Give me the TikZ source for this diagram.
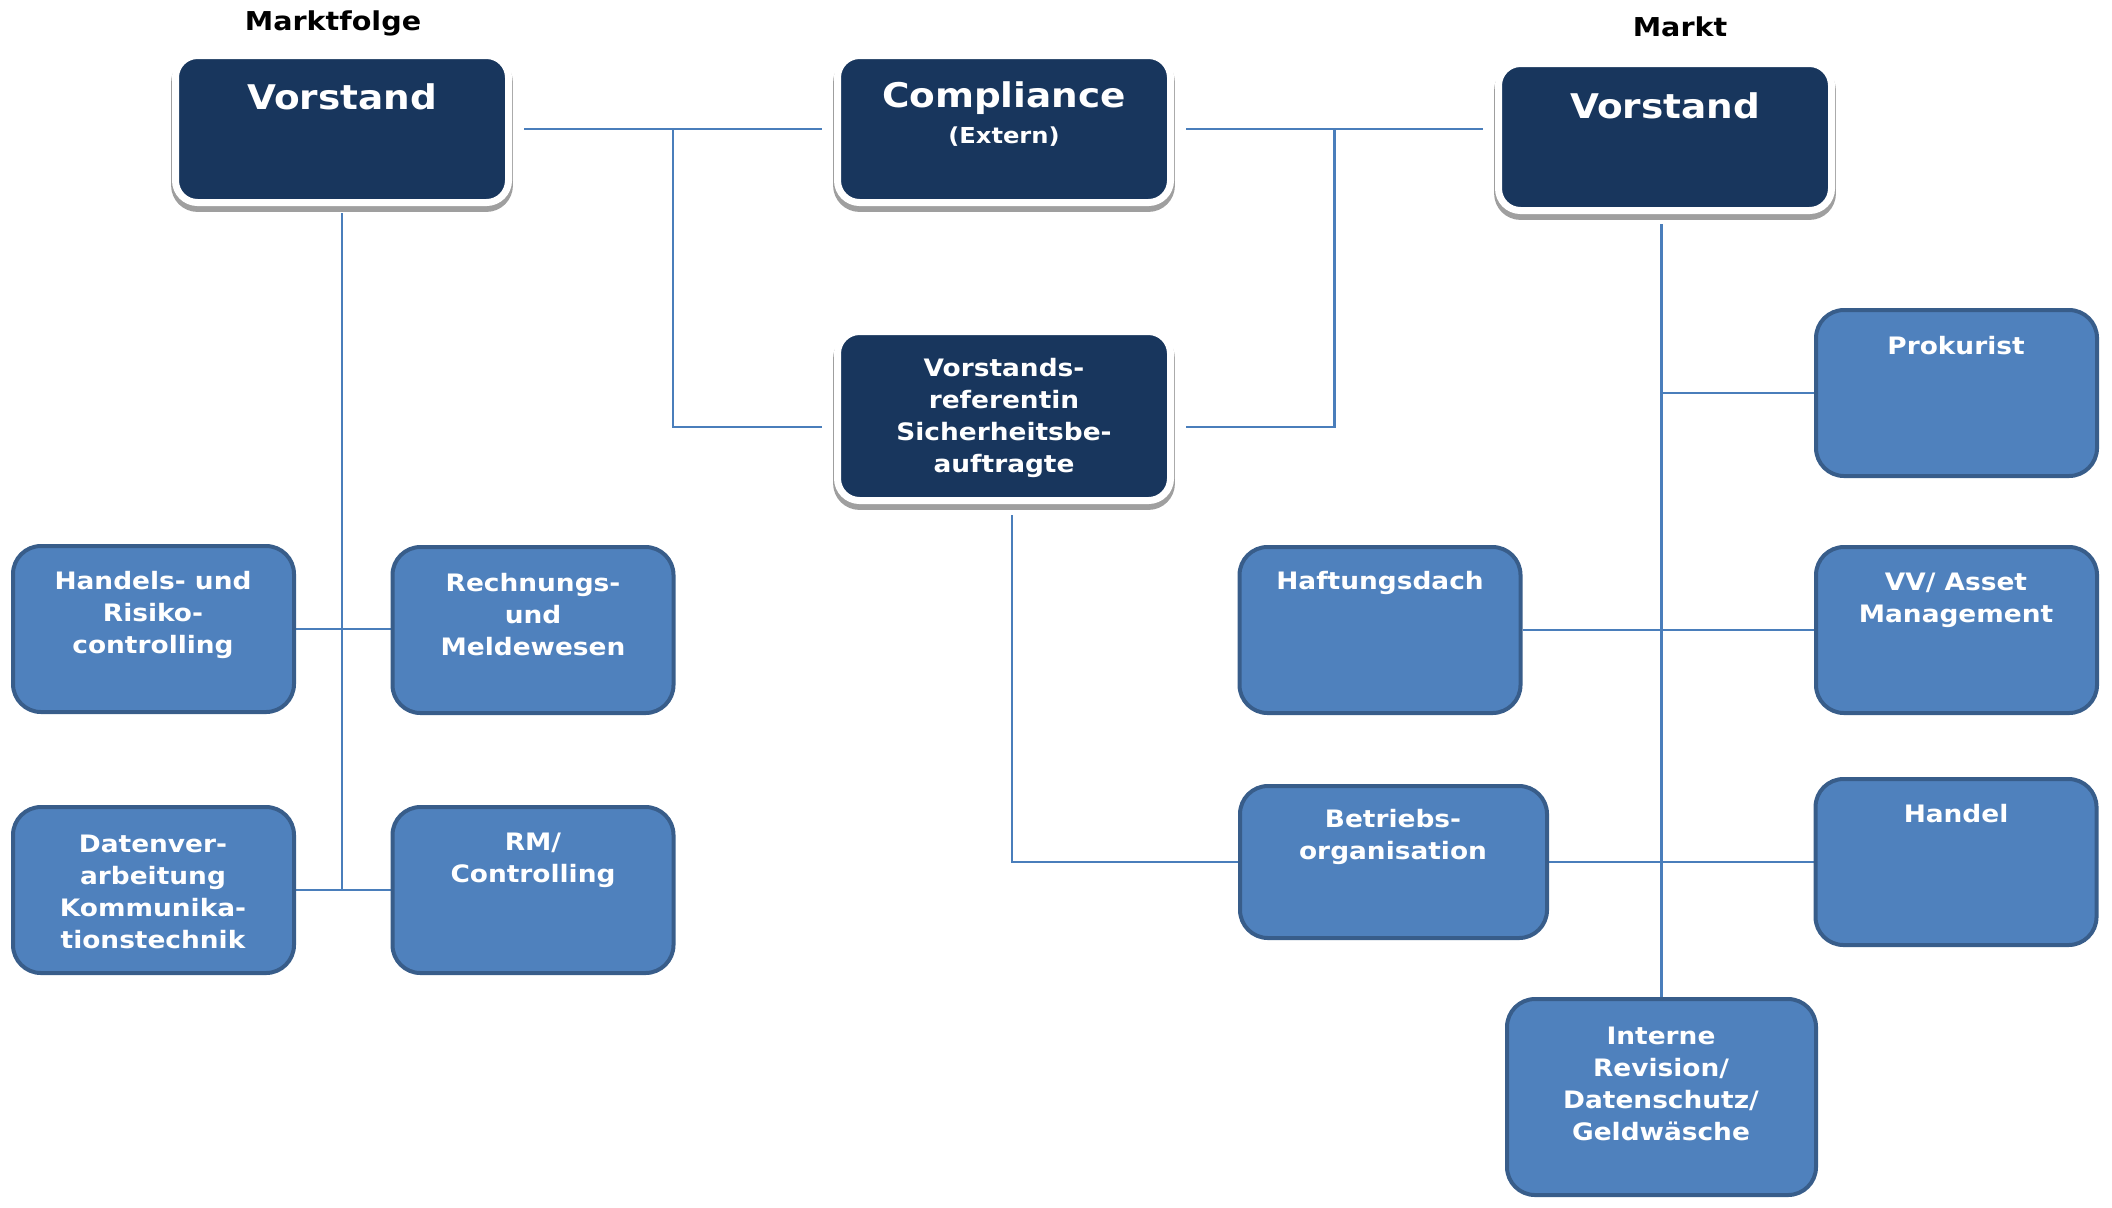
\documentclass[tikz,border=0pt]{standalone}
\usepackage{fontspec}
\setmainfont{DejaVu Sans}[FakeStretch=1.1]
\usetikzlibrary{calc}
\definecolor{dkblue}{RGB}{24,54,93}
\definecolor{fillblue}{RGB}{79,129,189}
\definecolor{borderblue}{RGB}{56,93,138}
\definecolor{lineblue}{RGB}{74,126,187}
\pgfdeclarelayer{bg}
\pgfsetlayers{bg,main}
\begin{document}
\begin{tikzpicture}[x=0.5pt,y=-0.5pt,
  darkbox/.style={rounded corners=11pt, fill=dkblue, draw=white, line width=3.5pt,
    minimum width=166.5pt, minimum height=73.5pt, inner sep=0pt,
    preaction={draw=gray!75, line width=4.4pt, transform canvas={yshift=-2.5pt}}},
  lightbox/.style={rounded corners=14pt, fill=fillblue, draw=borderblue, line width=2pt,
    minimum width=140.5pt, minimum height=83pt, inner sep=0pt},
  boxtxt/.style={text=white, font=\bfseries\fontsize{12}{16}\selectfont, align=center, inner sep=0pt},
  bigtxt/.style={text=white, font=\bfseries\fontsize{17}{20}\selectfont, inner sep=0pt},
  headtxt/.style={text=black, font=\bfseries\fontsize{13}{15}\selectfont, inner sep=0pt},
  conn/.style={draw=lineblue, line width=1.2pt}
]
\useasboundingbox (0,0) rectangle (2112,1207);

% headings
\node[headtxt] (hmf) at (333,23) {Marktfolge};
\node[headtxt] (hm) at (1680,27) {Markt};

% dark boxes
\node[darkbox] (vl) at (342,129) {};
\node[bigtxt] (vlt) at (342,97) {Vorstand};
\node[darkbox] (comp) at (1004,129) {};
\node[bigtxt] (compt) at (1004,98) {Compliance};
\node[boxtxt, font=\bfseries\fontsize{11}{13}\selectfont] (compx) at (1004,137) {(Extern)};
\node[darkbox] (rv) at (1665,137) {};
\node[bigtxt] (rvt) at (1665,106) {Vorstand};
\node[darkbox, minimum height=84.5pt] (ref) at (1004,416) {};
\node[boxtxt] (reft) at (1004,418) {Vorstands-\\referentin\\Sicherheitsbe-\\auftragte};

% light boxes
\node[lightbox] (prok) at (1956.5,393) {};
\node[boxtxt] (prokt) at (1956,346) {Prokurist};
\node[lightbox] (hrc) at (153.5,629) {};
\node[boxtxt] (hrct) at (153,615) {Handels- und\\Risiko-\\controlling};
\node[lightbox] (rmw) at (533,630) {};
\node[boxtxt] (rmwt) at (533,615) {Rechnungs-\\und\\Meldewesen};
\node[lightbox] (haft) at (1380,630) {};
\node[boxtxt] (haftt) at (1380,583) {Haftungsdach};
\node[lightbox] (vv) at (1956.5,630) {};
\node[boxtxt] (vvt) at (1956,600) {VV/ Asset\\Management};
\node[lightbox] (dvk) at (153.5,890) {};
\node[boxtxt] (dvkt) at (153,892) {Datenver-\\arbeitung\\Kommunika-\\tionstechnik};
\node[lightbox] (rmc) at (533,890) {};
\node[boxtxt] (rmct) at (533,860) {RM/\\Controlling};
\node[lightbox, minimum width=153.5pt, minimum height=76pt] (betr) at (1393.5,862) {};
\node[boxtxt] (betrt) at (1393,837) {Betriebs-\\organisation};
\node[lightbox] (handel) at (1956,862) {};
\node[boxtxt] (handelt) at (1956,814) {Handel};
\node[lightbox, minimum width=154.5pt, minimum height=98pt] (irev) at (1661.5,1097) {};
\node[boxtxt] (irevt) at (1661,1084) {Interne\\Revision/\\Datenschutz/\\Geldwäsche};

\coordinate (j1) at ($(vl.east)!0.5!(comp.west)$);
\coordinate (j2) at ($(comp.east)!0.5!(comp.east -| rv.west)$);

\begin{pgfonlayer}{bg}
\draw[conn, shorten <=6pt, shorten >=6pt] (vl.east) -- (comp.west);
\draw[conn, shorten >=6pt] (j1) |- ([yshift=-5.5pt]ref.west);
\draw[conn, shorten <=6pt, shorten >=6pt] (comp.east) -- (comp.east -| rv.west);
\draw[conn, shorten >=6pt] (j2) |- ([yshift=-5.5pt]ref.east);
\draw[conn, shorten <=5.5pt] ([xshift=4pt]ref.south) |- (betr.west);
\draw[conn, shorten <=3.5pt] (vl.south) -- (vl.south |- dvk.east);
\draw[conn] (hrc.east) -- (hrc.east -| rmw.west);
\draw[conn] (dvk.east) -- (dvk.east -| rmc.west);
\draw[conn, shorten <=5pt] (irev.north |- rv.south) -- (irev.north);
\draw[conn] (irev.north |- prok.west) -- (prok.west);
\draw[conn] (haft.east) -- (vv.west);
\draw[conn] (betr.east) -- (handel.west);
\end{pgfonlayer}
\end{tikzpicture}
\end{document}
